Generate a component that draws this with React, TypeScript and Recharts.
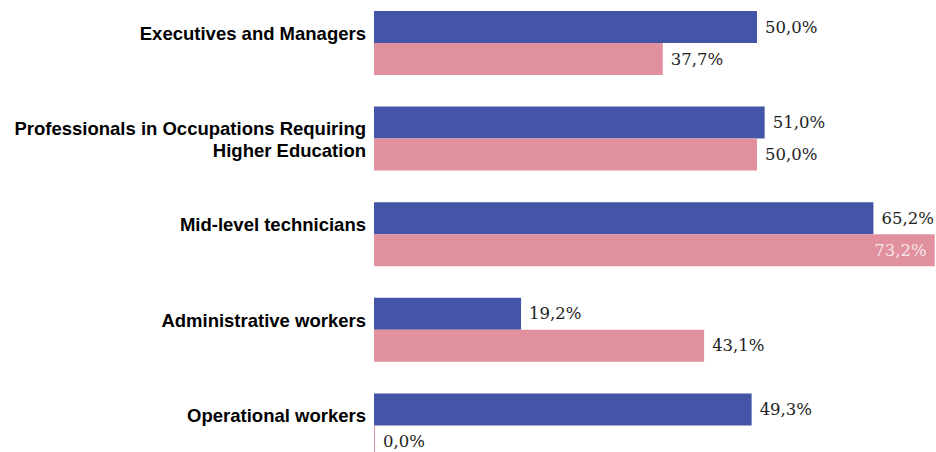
import React from 'react'
import { BarChart, Bar, XAxis, YAxis, LabelList } from 'recharts'

const categories = [
  'Executives and Managers',
  'Professionals in Occupations Requiring|Higher Education',
  'Mid-level technicians',
  'Administrative workers',
  'Operational workers',
]
const seriesBlue = [50.0, 51.0, 65.2, 19.2, 49.3]
const seriesPink = [37.7, 50.0, 73.2, 43.1, 0.0]

const data = categories.map((name, i) => ({ name, blue: seriesBlue[i], pink: seriesPink[i] }))

const fmt = (v: number) => v.toFixed(1).replace('.', ',') + '%'

const CategoryTick = (props: any) => {
  const { x, y, payload } = props
  const lines = String(payload.value).split('|')
  return (
    <text x={x} y={y - 8} textAnchor="end" dominantBaseline="middle"
      fontFamily="Liberation Sans, Arial, sans-serif" fontWeight="bold" fontSize={18.5} fill="#000">
      {lines.map((l, i) => (
        <tspan key={i} x={x} dy={i === 0 ? 0 : 22}>{l}</tspan>
      ))}
    </text>
  )
}

const ValueLabel = (props: any) => {
  const { x, y, width, height, value } = props
  const end = x + width
  const inside = end > 900
  return (
    <text
      x={inside ? end - 8 : end + 8}
      y={y + height / 2 + 1}
      textAnchor={inside ? 'end' : 'start'}
      dominantBaseline="middle"
      fontFamily="DejaVu Serif, serif"
      fontSize={16.5}
      fill={inside ? '#f6e6e9' : '#1e1e1e'}
    >
      {fmt(value)}
    </text>
  )
}

export default function App() {
  return (
    <div style={{ position: 'absolute', left: 0, top: -5, width: 936, height: 478, background: '#fff' }}>
      <BarChart width={936} height={478} data={data} layout="vertical"
        margin={{ top: 0, right: 0, bottom: 0, left: 0 }} barSize={32} barGap={0}>
        <XAxis type="number" hide domain={[0, 73.37]} allowDataOverflow />
        <YAxis type="category" dataKey="name" width={374} axisLine={false} tickLine={false}
          tick={<CategoryTick />} interval={0} />
        <Bar dataKey="blue" fill="#4455A8" isAnimationActive={false}>
          <LabelList dataKey="blue" content={<ValueLabel />} />
        </Bar>
        <Bar dataKey="pink" fill="#E1909E" minPointSize={1} isAnimationActive={false}>
          <LabelList dataKey="pink" content={<ValueLabel />} />
        </Bar>
      </BarChart>
    </div>
  )
}
